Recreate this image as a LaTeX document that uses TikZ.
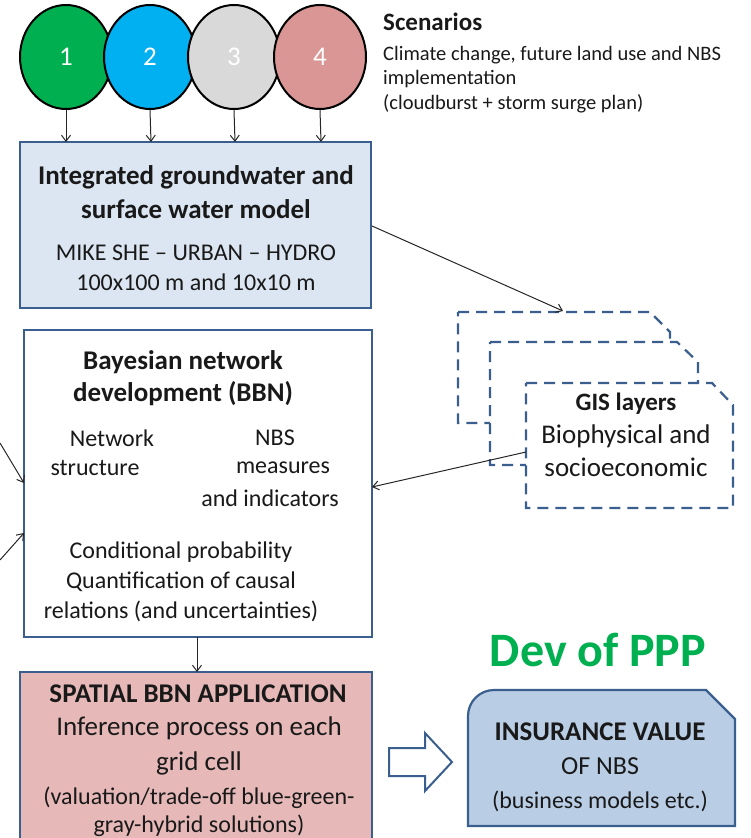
\documentclass[tikz,border=0pt]{standalone}
\usepackage{fontspec}
\setmainfont{Carlito}
\usetikzlibrary{shapes.geometric,arrows.meta}
\definecolor{bord}{HTML}{3A5F8E}
\definecolor{fillA}{HTML}{DCE6F2}
\definecolor{fillC}{HTML}{E6B9B8}
\definecolor{fillI}{HTML}{B9CDE5}
\definecolor{cgreen}{HTML}{00B050}
\definecolor{cblue}{HTML}{00B0F0}
\definecolor{cgray}{HTML}{D9D9D9}
\definecolor{cpink}{HTML}{D99694}
\newcommand{\fs}[2]{\fontsize{#1}{#2}\selectfont}
\tikzset{
  scen/.style={ellipse, draw=black, line width=2pt, minimum width=92pt, minimum height=104pt, inner sep=0pt, text=white, font=\fs{27}{30}},
  box/.style={rectangle, draw=bord, line width=2.2pt, inner sep=0pt},
  txt/.style={align=center, inner sep=0pt, text=black!90},
  arr/.style={-{Straight Barb[length=6pt,width=9pt]}, line width=1pt, black!85},
  gis/.style={draw=bord, line width=2.2pt, dash pattern=on 11pt off 7pt, fill=white},
}
\begin{document}
\begin{tikzpicture}[x=1pt,y=-1pt]
\useasboundingbox (0,0) rectangle (750,838);
% scenario circles
\node[scen, fill=cgreen] (c1) at (66,57) {1};
\node[scen, fill=cblue]  (c2) at (150,57) {2};
\node[scen, fill=cgray]  (c3) at (234,57) {3};
\node[scen, fill=cpink]  (c4) at (320,57) {4};
\node[txt, anchor=west, font=\fs{25}{28}\bfseries] (sct) at (383,22) {Scenarios};
\node[txt, anchor=north west, align=left, font=\fs{20.5}{24.5}] (scb) at (383,46) {Climate change, future land use and NBS\\implementation\\(cloudburst + storm surge plan)};
% box 1
\node[box, fill=fillA, minimum width=351pt, minimum height=166pt] (b1) at (195.5,225) {};
\node[txt, font=\fs{27}{34}\bfseries] (b1t) at (196,192) {Integrated groundwater and\\surface water model};
\node[txt, font=\fs{24}{30}] (b1b) at (196,268) {MIKE SHE -- URBAN -- HYDRO\\100x100 m and 10x10 m};
\coordinate (a1) at (66,142); \coordinate (a2) at (151,142); \coordinate (a3) at (235,142); \coordinate (a4) at (321,142);
\draw[arr] (c1.south) -- (a1);
\draw[arr] (c2.south) -- (a2);
\draw[arr] (c3.south) -- (a3);
\draw[arr] (c4.south) -- (a4);
% GIS layers
\path[gis] (458,312) -- (650,312) -- (670,332) -- (670,423) -- (458,423) -- cycle;
\path[gis] (490,342) -- (677,342) -- (698,362) -- (698,465) -- (490,465) -- cycle;
\path[gis] (526,383) -- (712,383) -- (733,405) -- (733,508) -- (526,508) -- cycle;
\coordinate (gisback) at (563,311);
\coordinate (gisfront) at (526,452);
\node[txt, font=\fs{27}{33}] (gist) at (626,435) {\textbf{\fs{25}{33}GIS layers}\\Biophysical and\\socioeconomic};
\draw[arr] (b1.east |- 0,226) -- (gisback);
% box 2
\node[box, fill=white, minimum width=348pt, minimum height=307pt] (b2) at (198,483.5) {};
\node[txt, font=\fs{27}{32}\bfseries] (b2t) at (183,378) {Bayesian network\\development (BBN)};
\node[txt, font=\fs{24}{30}] (n1) at (112,438) {Network};
\node[txt, font=\fs{24}{30}] (n2) at (95,468) {structure};
\node[txt, font=\fs{24}{30}] (n3) at (275,438) {NBS};
\node[txt, font=\fs{24}{30}] (n4) at (283,468) {measures};
\node[txt, font=\fs{24}{30}] (n5) at (270,498) {and indicators};
\node[txt, font=\fs{24}{30}] (b2c) at (181,582) {Conditional probability\\Quantification of causal\\relations (and uncertainties)};
\coordinate (l1) at (0,443); \coordinate (l1e) at (24,483);
\coordinate (l2) at (0,560); \coordinate (l2e) at (24,533);
\draw[arr] (l1) -- (l1e);
\draw[arr] (l2) -- (l2e);
\coordinate (b2r) at (372,487);
\draw[arr] (gisfront) -- (b2r);
% box 3
\node[box, fill=fillC, minimum width=352pt, minimum height=176pt] (b3) at (196,760) {};
\node[txt, font=\fs{27}{30}\bfseries] (b3t) at (198,694) {SPATIAL BBN APPLICATION};
\node[txt, font=\fs{27}{35}] (b3m) at (199,745.5) {Inference process on each\\grid cell};
\node[txt, font=\fs{24}{28}] (b3b) at (199,812) {(valuation/trade-off blue-green-\\gray-hybrid solutions)};
\coordinate (b2s) at (197,637);
\coordinate (b3n) at (197,672);
\draw[arr] (b2s) -- (b3n);
% block arrow
\draw[bord, line width=2pt, fill=white, line join=miter] (389,748) -- (425,748) -- (425,733) -- (452,762) -- (425,791) -- (425,776) -- (389,776) -- cycle;
% insurance box
\draw[bord, line width=2.2pt, fill=fillI] (468,826) -- (468,716) arc[start angle=180, end angle=270, radius=26] -- (706,690) -- (735,719) -- (735,826) -- cycle;
\node[txt, font=\fs{24}{34}] (ins) at (600,767) {\textbf{\fs{27}{34}INSURANCE VALUE}\\{\fs{26}{34}OF NBS}\\(business models etc.)};
\node[txt, font=\fs{48}{52}\bfseries, text=cgreen] (dev) at (598,650) {Dev of PPP};
\end{tikzpicture}
\end{document}
